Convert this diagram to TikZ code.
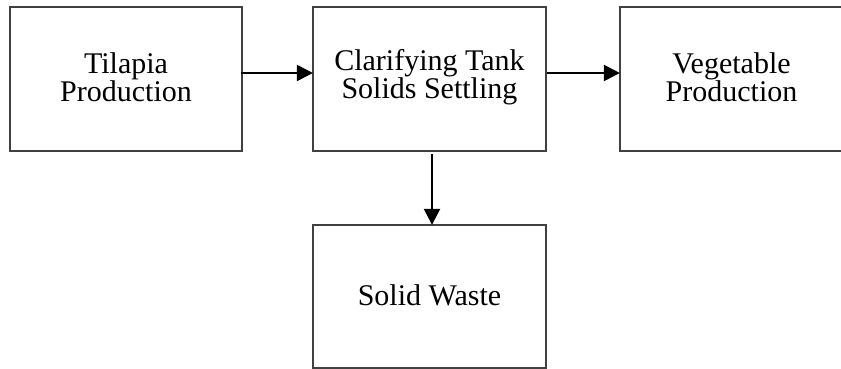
\documentclass[tikz,border=0pt]{standalone}
\usepackage{fontspec}
\setmainfont{Liberation Serif}
\usetikzlibrary{arrows.meta}
\begin{document}
\begin{tikzpicture}[x=1pt,y=-1pt,
  box/.style={draw=black!75, line width=1.3pt, rectangle, inner sep=0pt},
  lbl/.style={align=center, inner sep=0pt, font=\fontsize{30pt}{28.5pt}\selectfont},
  arr/.style={draw=black, line width=2.4pt, -{Triangle[length=16pt,width=16pt]}, shorten >=-0.5pt}]
\useasboundingbox (0,0) rectangle (841,369);
\node[box, minimum width=232pt, minimum height=144pt] (a) at (126,79) {};
\node[box, minimum width=233pt, minimum height=144pt] (b) at (429.5,79) {};
\node[box, minimum width=223pt, minimum height=144pt] (c) at (731.5,79) {};
\node[box, minimum width=233pt, minimum height=143pt] (d) at (429.5,296.5) {};
\node[lbl] (ta) at ([yshift=2pt]a.center) {Tilapia\\Production};
\node[lbl] (tb) at ([yshift=2pt]b.center) {Clarifying Tank\\Solids Settling};
\node[lbl] (tc) at ([yshift=2pt]c.center) {Vegetable\\Production};
\node[lbl] (td) at ([yshift=1pt]d.center) {Solid Waste};
\draw[arr] ([xshift=-2pt,yshift=6pt]a.east) -- ([yshift=6pt]b.west);
\draw[arr] ([yshift=6pt]b.east) -- ([yshift=6pt]c.west);
\draw[arr] ([xshift=2.5pt,yshift=-2pt]b.south) -- ([xshift=2.5pt]d.north);
\end{tikzpicture}
\end{document}
